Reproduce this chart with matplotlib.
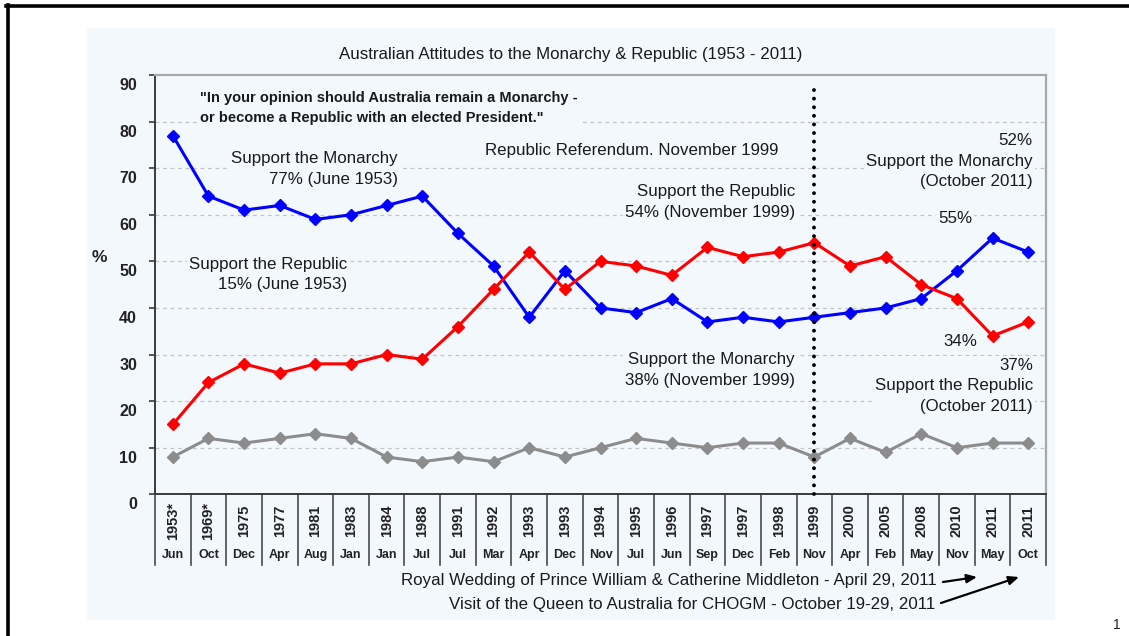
import matplotlib
matplotlib.use("Agg")
import matplotlib.pyplot as plt
import matplotlib.transforms as mtransforms
from matplotlib.patches import Rectangle, FancyArrowPatch
from matplotlib.lines import Line2D

plt.rcParams['font.family'] = ['Liberation Sans', 'DejaVu Sans']

years = ["1953*", "1969*", "1975", "1977", "1981", "1983", "1984", "1988", "1991",
         "1992", "1993", "1993", "1994", "1995", "1996", "1997", "1997", "1998",
         "1999", "2000", "2005", "2008", "2010", "2011", "2011"]
months = ["Jun", "Oct", "Dec", "Apr", "Aug", "Jan", "Jan", "Jul", "Jul", "Mar", "Apr",
          "Dec", "Nov", "Jul", "Jun", "Sep", "Dec", "Feb", "Nov", "Apr", "Feb", "May",
          "Nov", "May", "Oct"]
monarchy = [77, 64, 61, 62, 59, 60, 62, 64, 56, 49, 38, 48, 40, 39, 42, 37, 38, 37,
            38, 39, 40, 42, 48, 55, 52]
republic = [15, 24, 28, 26, 28, 28, 30, 29, 36, 44, 52, 44, 50, 49, 47, 53, 51, 52,
            54, 49, 51, 45, 42, 34, 37]
uncommitted = [8, 12, 11, 12, 13, 12, 8, 7, 8, 7, 10, 8, 10, 12, 11, 10, 11, 11,
               8, 12, 9, 13, 10, 11, 11]
yticks = [0, 10, 20, 30, 40, 50, 60, 70, 80, 90]
referendum_index = 18

W, H = 1129, 636
BG = '#F3F8FD'
fig = plt.figure(figsize=(W / 100, H / 100), dpi=100)
fig.patch.set_facecolor('white')

# slide frame lines
fig.add_artist(Line2D([6 / W, 1.0], [1 - 6 / H, 1 - 6 / H], color='black', lw=2.6,
                      transform=fig.transFigure))
fig.add_artist(Line2D([7.5 / W, 7.5 / W], [0, 1 - 5 / H], color='black', lw=2.6,
                      transform=fig.transFigure))
# chart panel
fig.add_artist(Rectangle((87 / W, 1 - 620 / H), (1055 - 87) / W, (620 - 28) / H,
                         transform=fig.transFigure, facecolor=BG, edgecolor='none',
                         zorder=0))

ax_l, ax_r, ax_t, ax_b = 155, 1046, 75, 494.3
ax = fig.add_axes([ax_l / W, 1 - ax_b / H, (ax_r - ax_l) / W, (ax_b - ax_t) / H])
ax.set_facecolor(BG)
n = len(years)
x = list(range(n))
ax.set_xlim(-0.5, n - 0.5)
ax.set_ylim(0, 90)

for v in yticks[1:-1]:
    ax.axhline(v, color='#C4C4C4', lw=0.9, ls=(0, (3, 3)), zorder=1)

ax.plot(x, uncommitted, color='#8C8C8C', lw=2.2, marker='D', ms=6.5, zorder=3)
ax.plot(x, monarchy, color='#0000FF', lw=2.2, marker='D', ms=6.5, zorder=4)
ax.plot(x, republic, color='#FF0000', lw=2.2, marker='D', ms=6.5, zorder=5)

ax.plot([referendum_index, referendum_index], [0, 87], color='black', lw=2.8,
        ls=(0, (0.01, 2.2)), dash_capstyle='round', zorder=6, clip_on=False)

# spines
for s in ['left', 'bottom']:
    ax.spines[s].set_color('#3A3A3A')
    ax.spines[s].set_linewidth(1.4)
for s in ['top', 'right']:
    ax.spines[s].set_color('#A8A8A8')
    ax.spines[s].set_linewidth(1.6)

ax.set_xticks([])
ax.set_yticks(yticks)
ax.set_yticklabels([])
ax.tick_params(axis='y', direction='out', length=4, width=1.2, color='#3A3A3A')

ylab_tr = mtransforms.blended_transform_factory(ax.transAxes, ax.transData) + \
    mtransforms.ScaledTranslation(-18 / 100, -10.5 / 100, fig.dpi_scale_trans)
for v in yticks:
    ax.text(0, v, str(v), transform=ylab_tr, ha='right', va='center',
            fontsize=11.5, fontweight='bold', color='#222222')

fig.text(99 / W, 1 - 257 / H, '%', ha='center', va='center', fontsize=12.5,
         fontweight='bold', color='#222222')

# category dividers and labels
xtr = mtransforms.blended_transform_factory(ax.transData, fig.transFigure)
for i in range(n + 1):
    ax.add_line(Line2D([i - 0.5, i - 0.5], [1 - ax_b / H, 1 - 565 / H], color='#4A4A4A',
                       lw=1.2, transform=xtr, clip_on=False))
for i in range(n):
    ax.text(i, 1 - 521 / H, years[i], transform=xtr, rotation=90, ha='center',
            va='center', fontsize=10.5, fontweight='bold', color='#222222',
            family=['Liberation Sans Narrow', 'Liberation Sans'])
    ax.text(i, 1 - 555 / H, months[i], transform=xtr, ha='center', va='center',
            fontsize=9, fontweight='bold', color='#222222')

# title
fig.text(571 / W, 1 - 54 / H, 'Australian Attitudes to the Monarchy & Republic (1953 - 2011)',
         ha='center', va='center', fontsize=12.2, color='#1A1A1A')

box = dict(facecolor=BG, edgecolor='none', pad=1.5)
fs = 12.2
ls = 1.45
tc = '#1A1A1A'
ax.text(0.76, 82.9, '"In your opinion should Australia remain a Monarchy -\n'
        'or become a Republic with an elected President."', ha='left', va='center',
        fontsize=10.5, fontweight='bold', color=tc, linespacing=1.62, bbox=box, zorder=7)
ax.text(6.32, 69.8, 'Support the Monarchy\n77% (June 1953)', ha='right', va='center',
        multialignment='right', fontsize=fs, color=tc, linespacing=ls, bbox=box, zorder=7)
ax.text(4.89, 47.2, 'Support the Republic\n15% (June 1953)', ha='right', va='center',
        multialignment='right', fontsize=fs, color=tc, linespacing=ls, bbox=box, zorder=7)
ax.text(8.76, 73.9, 'Republic Referendum. November 1999', ha='left', va='center',
        fontsize=fs, color=tc, bbox=box, zorder=7)
ax.text(17.46, 62.7, 'Support the Republic\n54% (November 1999)', ha='right', va='center',
        multialignment='right', fontsize=fs, color=tc, linespacing=ls, bbox=box, zorder=7)
ax.text(17.46, 26.7, 'Support the Monarchy\n38% (November 1999)', ha='right', va='center',
        multialignment='right', fontsize=fs, color=tc, linespacing=ls, bbox=box, zorder=7)
ax.text(24.13, 71.5, '52%\nSupport the Monarchy\n(October 2011)', ha='right', va='center',
        multialignment='right', fontsize=fs, color=tc, linespacing=ls, bbox=box, zorder=7)
ax.text(21.95, 59.2, '55%', ha='center', va='center', fontsize=fs, color=tc, bbox=box, zorder=7)
ax.text(22.1, 32.9, '34%', ha='center', va='center', fontsize=fs, color=tc, bbox=box, zorder=7)
ax.text(24.13, 23.3, '37%\nSupport the Republic\n(October 2011)', ha='right', va='center',
        multialignment='right', fontsize=fs, color=tc, linespacing=ls, bbox=box, zorder=7)

# bottom notes
fig.text(937 / W, 1 - 580 / H,
         'Royal Wedding of Prince William & Catherine Middleton - April 29, 2011',
         ha='right', va='center', fontsize=fs, color=tc)
fig.text(935 / W, 1 - 604 / H,
         'Visit of the Queen to Australia for CHOGM - October 19-29, 2011',
         ha='right', va='center', fontsize=fs, color=tc)
for (x0, y0), (x1, y1) in [((943, 582), (977, 577)), ((941, 603), (1019, 577))]:
    fig.add_artist(FancyArrowPatch((x0 / W, 1 - y0 / H), (x1 / W, 1 - y1 / H),
                                   transform=fig.transFigure,
                                   arrowstyle='-|>,head_length=6,head_width=2.6',
                                   color='black', lw=1.6, shrinkA=0, shrinkB=0))

fig.text(1117 / W, 1 - 625 / H, '1', ha='center', va='center', fontsize=10, color='#222222')

fig.savefig('out.png', dpi=100, facecolor='white')
